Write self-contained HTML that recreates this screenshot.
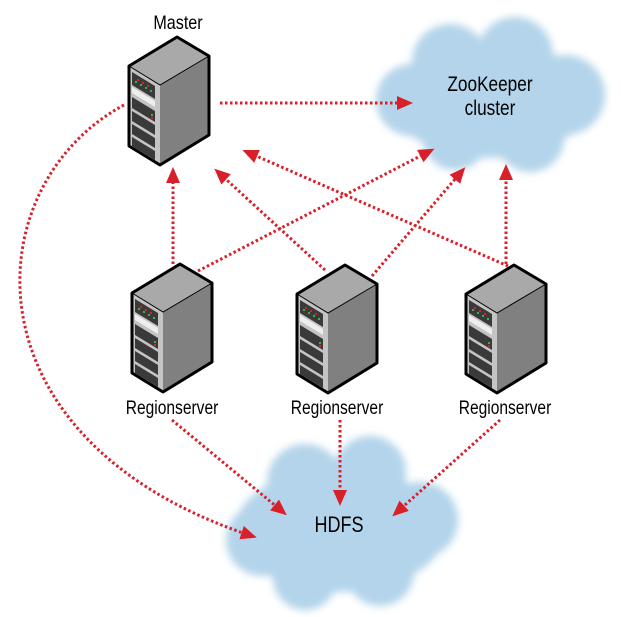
<!DOCTYPE html>
<html><head><meta charset="utf-8"><style>
html,body{margin:0;padding:0;background:#fff;width:621px;height:617px;overflow:hidden}
text{font-family:"Liberation Sans Narrow","Liberation Sans",sans-serif;fill:#000}
</style></head><body>
<svg width="621" height="617" viewBox="0 0 621 617" xmlns="http://www.w3.org/2000/svg">
<defs>
<filter id="blur" x="-20%" y="-20%" width="140%" height="140%"><feGaussianBlur stdDeviation="4"/></filter>
<marker id="ah" markerWidth="18" markerHeight="16" refX="11" refY="7" orient="auto" markerUnits="userSpaceOnUse">
<path d="M0,0 L16,7 L0,14 z" fill="#d8202a"/>
</marker>
<g id="srv">
<polygon points="0,0 -48,29 -17,48 32,19" fill="#a9a9a9"/>
<polygon points="-48,29 -17,48 -17,128 -48,109" fill="#c4c4c4"/>
<polygon points="-17,48 32,19 32,98 -17,128" fill="#808080"/>
<g fill="#3a3a3a">
<polygon points="-45,35 -22,49 -22,62 -45,48"/>
<polygon points="-45,60 -22,74 -22,85 -45,71"/>
<polygon points="-45,74 -22,88 -22,98 -45,84"/>
<polygon points="-45,87 -22,101 -22,111 -45,97"/>
<polygon points="-45,100 -22,114 -22,123 -45,109"/>
</g>
<polygon points="-45,50 -22,64 -22,70 -45,56" fill="#eee"/>
<g fill="#3fae49"><rect x="-42" y="44" width="2" height="2"/><rect x="-37" y="47" width="2" height="2"/><rect x="-32" y="50" width="2" height="2"/><rect x="-27" y="53" width="2" height="2"/><rect x="-26" y="77" width="2" height="2"/></g>
<g fill="#d8202a"><rect x="-40" y="42" width="2" height="2"/><rect x="-35" y="45" width="2" height="2"/><rect x="-30" y="48" width="2" height="2"/><rect x="-26" y="80" width="2" height="2"/></g>
<polygon points="0,0 -48,29 -48,109 -17,128 32,98 32,19" fill="none" stroke="#000" stroke-width="3" stroke-linejoin="round"/>
<polyline points="-48,29 -17,48 32,19" fill="none" stroke="#000" stroke-width="1"/>
</g>
</defs>

<g filter="url(#blur)" fill="#b3d4ea">
<ellipse cx="490" cy="100" rx="100" ry="58"/>
<circle cx="450" cy="62" r="38"/><circle cx="515" cy="55" r="38"/><circle cx="565" cy="95" r="40"/>
<circle cx="412" cy="100" r="36"/><circle cx="455" cy="138" r="32"/><circle cx="530" cy="138" r="34"/>
<ellipse cx="340" cy="530" rx="105" ry="62"/>
<circle cx="305" cy="482" r="38"/><circle cx="370" cy="472" r="36"/><circle cx="420" cy="520" r="38"/>
<circle cx="262" cy="540" r="36"/><circle cx="305" cy="578" r="32"/><circle cx="380" cy="572" r="34"/>
</g>

<use href="#srv" x="177" y="37"/>
<use href="#srv" x="180" y="264"/>
<use href="#srv" x="345" y="265"/>
<use href="#srv" x="514" y="265"/>

<g stroke="#d8202a" stroke-width="3" stroke-dasharray="2.5 2.5" fill="none" marker-end="url(#ah)">
<line x1="220" y1="103" x2="408" y2="103"/>
<path d="M124,105 C-25,185 -40,440 252,536"/>
<line x1="173" y1="264" x2="173" y2="172"/>
<line x1="198" y1="271" x2="430" y2="151"/>
<line x1="325" y1="270" x2="218" y2="172"/>
<line x1="372" y1="276" x2="462" y2="171"/>
<line x1="508" y1="266" x2="247" y2="152"/>
<line x1="506" y1="264" x2="506" y2="169"/>
<line x1="172" y1="420" x2="283" y2="512"/>
<line x1="340" y1="420" x2="340" y2="501"/>
<line x1="500" y1="420" x2="396" y2="513"/>
</g>

<g font-size="19" text-anchor="middle">
<text x="178" y="29" transform="translate(178 0) scale(0.85 1) translate(-178 0)">Master</text>
<text x="172" y="414" transform="translate(172 0) scale(0.82 1) translate(-172 0)">Regionserver</text>
<text x="337" y="414" transform="translate(337 0) scale(0.82 1) translate(-337 0)">Regionserver</text>
<text x="505" y="414" transform="translate(505 0) scale(0.82 1) translate(-505 0)">Regionserver</text>
<text x="490" y="91" font-size="21" transform="translate(490 0) scale(0.82 1) translate(-490 0)">ZooKeeper</text>
<text x="490" y="115" font-size="21" transform="translate(490 0) scale(0.82 1) translate(-490 0)">cluster</text>
<text x="339" y="532" font-size="22" transform="translate(339 0) scale(0.82 1) translate(-339 0)">HDFS</text>
</g>
</svg>
</body></html>
